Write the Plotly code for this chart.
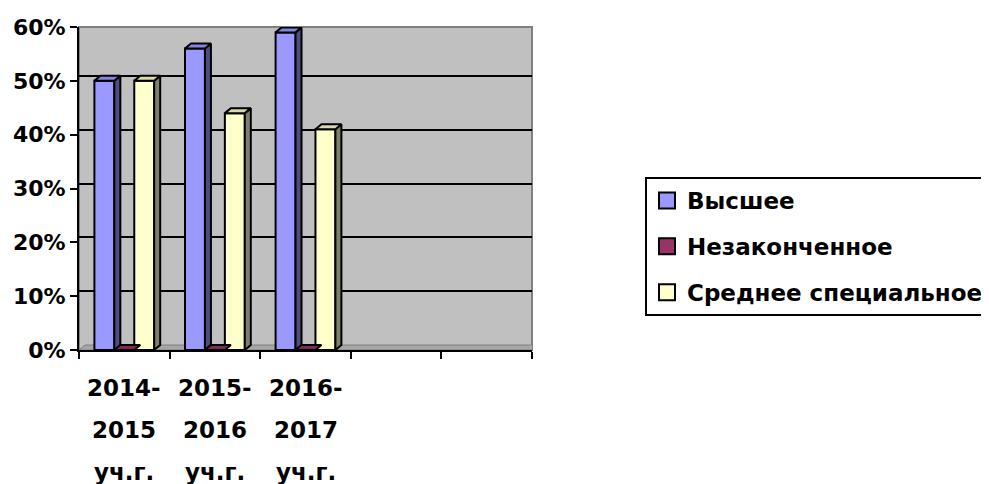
import plotly.graph_objects as go

# ---- data ----
categories = ["2014-\n2015\nуч.г.", "2015-\n2016\nуч.г.", "2016-\n2017\nуч.г.", "", ""]
series_names = ["Высшее", "Незаконченное", "Среднее специальное"]
vysshee = [50, 56, 59]
nezakonchennoe = [0, 0, 0]
srednee_spec = [50, 44, 41]
y_tick_vals = [0, 10, 20, 30, 40, 50, 60]
y_tick_text = ["0%", "10%", "20%", "30%", "40%", "50%", "60%"]

series_values = [vysshee, nezakonchennoe, srednee_spec]
front_colors = ["#9999FF", "#993366", "#FFFFCC"]
side_colors = ["#4D4D80", "#4D1A33", "#80806A"]
top_colors = ["#8585E0", "#802B55", "#D9D9AD"]

FONT = "DejaVu Sans"
OFF = 8                      # page body margin
W, H = 989 - OFF, 484 - OFF
ML = 79 - OFF
MT = 27 - OFF
plot_right = 532 - OFF
plot_bottom = 350 - OFF
MR = W - plot_right
MB = H - plot_bottom
plot_w = plot_right - ML
plot_h = plot_bottom - MT
n_cat = len(categories)
px_per_x = plot_w / n_cat
px_per_y = plot_h / 60.0
dx = 6 / px_per_x      # 3D depth, x
dy = 5 / px_per_y      # 3D depth, y
bar_w = 0.22
offsets = [-0.22, 0.0, 0.22]

fig = go.Figure()

# legend proxies
for i, name in enumerate(series_names):
    fig.add_trace(go.Scatter(
        x=[None], y=[None], mode="markers", name=name,
        legendgroup=f"g{i}",
        marker=dict(symbol="square", size=18, color=front_colors[i],
                    line=dict(color="black", width=2)),
    ))

# front faces
for i, vals in enumerate(series_values):
    xs = [k + offsets[i] for k in range(len(vals))]
    fig.add_trace(go.Bar(
        x=xs, y=vals, width=bar_w, showlegend=False,
        marker=dict(color=front_colors[i], line=dict(color="black", width=2)),
        hoverinfo="skip",
    ))

# side and top faces
for i, vals in enumerate(series_values):
    for k, v in enumerate(vals):
        xl = k + offsets[i] - bar_w / 2
        xr = k + offsets[i] + bar_w / 2
        if v > 0:
            fig.add_trace(go.Scatter(
                x=[xr, xr + dx, xr + dx, xr, xr],
                y=[0, dy, v + dy, v, 0],
                fill="toself", fillcolor=side_colors[i], mode="lines",
                line=dict(color="black", width=2), showlegend=False,
                hoverinfo="skip",
            ))
        fig.add_trace(go.Scatter(
            x=[xl, xl + dx, xr + dx, xr, xl],
            y=[v, v + dy, v + dy, v, v],
            fill="toself", fillcolor=top_colors[i], mode="lines",
            line=dict(color="black", width=2), showlegend=False,
            hoverinfo="skip",
        ))

# dummy trace for shifted back-wall gridlines
fig.add_trace(go.Scatter(x=[None], y=[None], yaxis="y2", showlegend=False))

# x labels as multi-line annotations
line_py = [388 - OFF, 430 - OFF, 472 - OFF]
for k, lab in enumerate(categories):
    if not lab:
        continue
    for j, part in enumerate(lab.split("\n")):
        fig.add_annotation(
            x=k, xref="x", y=(plot_bottom - line_py[j]) / plot_h, yref="paper",
            text=part, showarrow=False, xanchor="center", yanchor="middle",
            font=dict(family=FONT, size=23, color="black", weight="bold"),
        )

# floor
fig.add_shape(type="path", xref="x", yref="y", layer="below",
              path=f"M -0.5 0 L 4.5 0 L {4.5 + dx} {dy} L {-0.5 + dx} {dy} Z",
              fillcolor="#A6A6A6", line=dict(color="#808080", width=1))
# back-wall border
fig.add_shape(type="rect", xref="paper", yref="paper", x0=0, x1=1, y0=0, y1=1,
              line=dict(color="#808080", width=2), layer="below")

fig.update_layout(
    width=W, height=H,
    margin=dict(l=ML, r=MR, t=MT, b=MB, autoexpand=False),
    paper_bgcolor="white", plot_bgcolor="#C0C0C0",
    barmode="overlay",
    xaxis=dict(range=[-0.5, n_cat - 0.5], showgrid=False, zeroline=False,
               showticklabels=False, ticks="", showline=True,
               linecolor="black", linewidth=2,
               minor=dict(tickvals=[k - 0.5 for k in range(n_cat + 1)],
                          ticks="outside", ticklen=7, tickcolor="black",
                          tickwidth=2, showgrid=False)),
    yaxis=dict(range=[0, 60], tickvals=y_tick_vals, ticktext=y_tick_text,
               showgrid=False, zeroline=False, ticks="outside", ticklen=7,
               tickwidth=2, tickcolor="black", showline=True,
               linecolor="black", linewidth=2,
               tickfont=dict(family=FONT, size=22, color="black", weight="bold")),
    yaxis2=dict(overlaying="y", range=[-dy, 60 - dy], tickvals=y_tick_vals[1:],
                showgrid=True, gridcolor="black", gridwidth=2,
                showticklabels=False, zeroline=False, showline=False),
    legend=dict(x=(645 - 79) / plot_w, y=(plot_bottom - (177 - OFF)) / plot_h,
                xanchor="left", yanchor="top", bgcolor="white",
                bordercolor="black", borderwidth=2, traceorder="grouped",
                tracegroupgap=13,
                font=dict(family=FONT, size=23, color="black", weight="bold")),
    showlegend=True,
)

fig.write_html("out.html")
